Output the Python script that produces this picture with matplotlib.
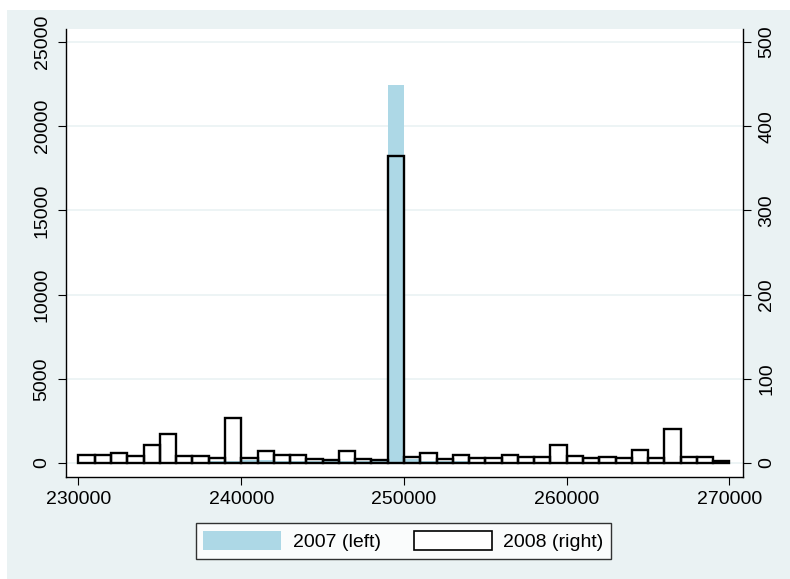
import matplotlib.pyplot as plt
import numpy as np
from matplotlib.patches import Patch, Rectangle

plt.rcParams['font.family'] = ['Liberation Sans', 'DejaVu Sans']

# histogram bins: 40 bins of 1000 from 230000 to 270000
bin_start = 230000
bin_width = 1000
n_bins = 40

# 2007 frequencies (left axis)
counts_2007 = [60, 60, 60, 60, 70, 80, 90, 90, 100, 120,
               180, 160, 150, 150, 120, 120, 150, 130, 120, 22450,
               240, 120, 100, 100, 90, 80, 80, 80, 80, 90,
               70, 70, 70, 70, 80, 70, 60, 60, 60, 60]

# 2008 frequencies (right axis)
counts_2008 = [10, 10, 12, 8, 22, 35, 8, 8, 6, 54,
               6, 14, 10, 10, 5, 4, 14, 5, 4, 365,
               7, 12, 5, 10, 6, 6, 9, 7, 7, 22,
               8, 6, 7, 6, 16, 6, 40, 7, 7, 3]

left_ticks = [0, 5000, 10000, 15000, 20000, 25000]
right_ticks = [0, 100, 200, 300, 400, 500]
x_ticks = [230000, 240000, 250000, 260000, 270000]

bg = '#eaf2f3'
fill_2007 = '#add8e6'

fig = plt.figure(figsize=(7.9, 5.79), dpi=100)
fig.patches.append(Rectangle((7 / 790, 0), 1, 1 - 10 / 579, transform=fig.transFigure,
                             facecolor=bg, edgecolor='none', zorder=-10))

ax = fig.add_axes([66 / 790, 1 - 477 / 579, 677 / 790, 448 / 579])
ax.set_facecolor('white')

edges = bin_start + bin_width * np.arange(n_bins)

for y in left_ticks:
    ax.axhline(y, color=bg, lw=1.2, zorder=0)

ax.bar(edges, counts_2007, width=bin_width, align='edge', color=fill_2007,
       edgecolor='none', zorder=1)
ax.set_xlim(229232, 270830)
ax.set_ylim(-829, 25770)
ax.set_yticks(left_ticks)
ax.set_xticks(x_ticks)

ax2 = ax.twinx()
ax2.bar(edges, counts_2008, width=bin_width, align='edge', fill=False,
        edgecolor='black', lw=1.7, zorder=2)
ax2.set_ylim(-829 / 50, 25770 / 50)
ax2.set_yticks(right_ticks)

for a in (ax, ax2):
    a.spines['top'].set_visible(False)
    for s in a.spines.values():
        s.set_linewidth(1.0)
ax.spines['right'].set_visible(False)
ax2.spines['left'].set_visible(False)
ax2.spines['bottom'].set_visible(False)

ax.tick_params(axis='x', length=6, width=0.8, labelsize=14, pad=4)
ax.tick_params(axis='y', length=6, width=0.8, labelsize=14, pad=5)
ax2.tick_params(axis='y', length=6, width=0.8, labelsize=14, pad=5)
for lbl in ax.get_yticklabels():
    lbl.set_rotation(90)
    lbl.set_va('center')
for lbl in ax2.get_yticklabels():
    lbl.set_rotation(90)
    lbl.set_va('center')

handles = [Patch(facecolor=fill_2007, edgecolor='none', label='2007 (left)'),
           Patch(facecolor='white', edgecolor='black', lw=1.2, label='2008 (right)')]
leg = fig.legend(handles=handles, loc='center', bbox_to_anchor=(403.5 / 790, 1 - 541 / 579),
                 ncol=2, fontsize=14, frameon=True, fancybox=False, edgecolor='black',
                 handlelength=4.0, handleheight=1.1, handletextpad=0.6,
                 columnspacing=1.7, borderpad=0.4)
leg.get_frame().set_linewidth(1.0)

fig.savefig('out.png', dpi=100, facecolor='white')
